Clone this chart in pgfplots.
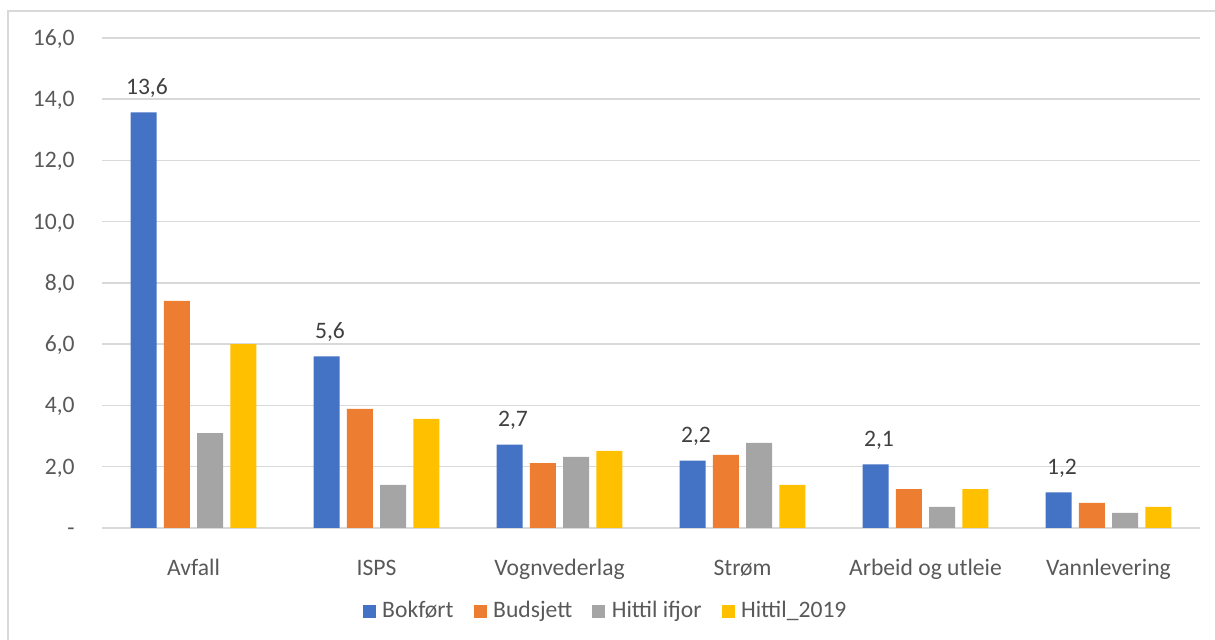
\documentclass[border=0pt]{standalone}
\usepackage{pgfplots}
\pgfplotsset{compat=1.18}
\usepackage{fontspec}
\setmainfont{Carlito}
\definecolor{cblue}{HTML}{4472C4}
\definecolor{corange}{HTML}{ED7D31}
\definecolor{cgray}{HTML}{A5A5A5}
\definecolor{cyellow}{HTML}{FFC000}
\definecolor{ctext}{HTML}{595959}
\definecolor{clabel}{HTML}{404040}
\definecolor{cgrid}{HTML}{D9D9D9}
\begin{document}
\begin{tikzpicture}
\useasboundingbox (-51pt,-56pt) rectangle (556.5pt,264pt);
\draw[cgrid, line width=1pt] (-46.75pt,-56pt) -- (-46.75pt,258.5pt) -- (556.5pt,258.5pt);
\begin{axis}[
  at={(0,0)}, anchor=south west,
  scale only axis,
  width=549pt, height=245pt,
  ybar=3.65pt, bar width=13pt,
  xmin=-0.5, xmax=5.5,
  ymin=0, ymax=16,
  xtick={0,1,2,3,4,5},
  xticklabels={Avfall,ISPS,Vognvederlag,Strøm,Arbeid og utleie,Vannlevering},
  ytick={0,2,4,6,8,10,12,14,16},
  yticklabels={-,{2,0},{4,0},{6,0},{8,0},{10,0},{12,0},{14,0},{16,0}},
  axis line style={draw=none},
  tick style={draw=none},
  ymajorgrids, grid style={cgrid, line width=0.75pt},
  font=\fontsize{11.8}{14}\selectfont,
  /pgf/number format/assume math mode=true,
  xticklabel style={anchor=base, inner sep=0pt, yshift=-19.35pt, text=ctext, font=\fontsize{11.8}{14}\selectfont},
  yticklabel style={anchor=base east, inner sep=0pt, xshift=-13.5pt, yshift=-3.7pt, text=ctext, font=\fontsize{11.8}{14}\selectfont},
  legend style={at={(axis description cs:0.4577,-0.1694)}, anchor=center, draw=none, fill=none,
    legend columns=-1, font=\fontsize{11.8}{14}\selectfont, text=ctext,
    /tikz/every even column/.append style={column sep=10pt},
    /tikz/every odd column/.append style={column sep=3.3pt},
    nodes={inner sep=0pt, anchor=west}},
  legend image code/.code={\fill[#1, draw=none] (0pt,-3.25pt) rectangle (6.5pt,3.25pt);},
  clip=false,
]
\addplot[fill=cblue, draw=none,
  nodes near coords={\pgfmathprintnumber[fixed, fixed zerofill, precision=1, use comma]{\pgfplotspointmeta}},
  every node near coord/.append style={anchor=base, inner sep=0pt, yshift=9pt, xshift=1.7pt, text=clabel, font=\fontsize{11.8}{14}\selectfont}]
  coordinates {(0,13.57) (1,5.6) (2,2.72) (3,2.2) (4,2.08) (5,1.16)};
\addplot[fill=corange, draw=none] coordinates {(0,7.42) (1,3.89) (2,2.12) (3,2.39) (4,1.27) (5,0.82)};
\addplot[fill=cgray, draw=none] coordinates {(0,3.1) (1,1.41) (2,2.32) (3,2.78) (4,0.69) (5,0.49)};
\addplot[fill=cyellow, draw=none] coordinates {(0,6.0) (1,3.56) (2,2.52) (3,1.41) (4,1.27) (5,0.69)};
\legend{Bokført,Budsjett,Hittil ifjor,Hittil\_2019}
\end{axis}
\end{tikzpicture}
\end{document}
